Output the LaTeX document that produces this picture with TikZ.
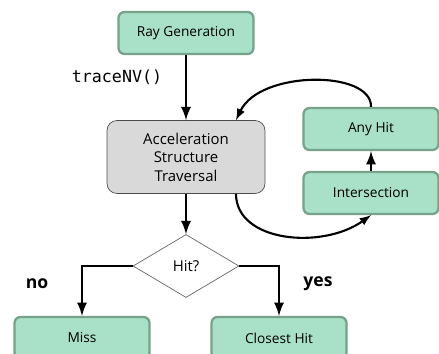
\documentclass[tikz,border=0pt]{standalone}
\usepackage{xcolor}
\usepackage{fontspec}
\setsansfont{Open Sans}
\setmonofont{DejaVu Sans Mono}
\usepackage{tikz}
\usetikzlibrary{calc}
\usetikzlibrary{shapes,arrows,positioning}
\usetikzlibrary{shapes.geometric}

\definecolor{stagefill}{RGB}{168,224,200}
\definecolor{stageline}{RGB}{118,162,138}
\definecolor{travfill}{RGB}{217,217,217}

\begin{document}
\begin{tikzpicture}[x=0.02cm,y=-0.02cm,
	stage/.style={draw=stageline,line width=1.3pt,fill=stagefill,rounded corners=0.12cm,minimum width=2.7cm,minimum height=0.84cm,font=\sffamily\fontsize{7.8}{9}\selectfont},
	travbox/.style={draw=black!70,thin,fill=travfill,rounded corners=0.2cm,minimum width=3.16cm,minimum height=1.46cm,align=center,font=\sffamily\fontsize{8.5}{10.5}\selectfont},
	hitdiamond/.style={diamond,draw=black!60,thin,fill=white,inner sep=0pt,minimum width=2.12cm,minimum height=1.26cm,font=\sffamily\fontsize{8.5}{10}\selectfont},
	flow/.style={-latex,line width=1.6pt},
	loopflow/.style={-latex,line width=1.2pt}]
		\useasboundingbox (0,0) rectangle (439,354);
		\clip (0,0) rectangle (439,354);
		\node[stage] (raygen) at (186,33) {Ray Generation};
		\node[font=\ttfamily\fontsize{9.5}{11}\selectfont] (trace) at (117,77) {traceNV()};
		\node[travbox] (accel) at (186,157) {Acceleration\\Structure\\Traversal};
		\node[stage] (anyhit) at (371,129) {Any Hit};
		\node[stage] (isect) at (371,193) {Intersection};
		\node[hitdiamond] (hit) at (186,266) {Hit?};
		\node[stage] (miss) at (82,338) {Miss};
		\node[stage] (closest) at (279,338) {Closest Hit};
		\node[font=\sffamily\bfseries\fontsize{10}{12}\selectfont] (no) at (37,284) {no};
		\node[font=\sffamily\bfseries\fontsize{10}{12}\selectfont] (yes) at (318,284) {yes};
		\coordinate (accel in) at ($(accel.north)+(50,0)$);
		\coordinate (accel out) at ($(accel.south)+(50,0)$);
		\draw[flow] (raygen) -- (accel);
		\draw[flow] (accel) -- (hit);
		\draw[flow] (isect) -- (anyhit);
		\draw[loopflow] (anyhit.north) .. controls (372,70) and (260,70) .. (accel in);
		\draw[loopflow] (accel out) .. controls (236,242) and (322,250) .. (isect.south);
		\draw[flow] (hit.west) -| (miss.north);
		\draw[flow] (hit.east) -| (closest.north);
	\end{tikzpicture}
\end{document}
